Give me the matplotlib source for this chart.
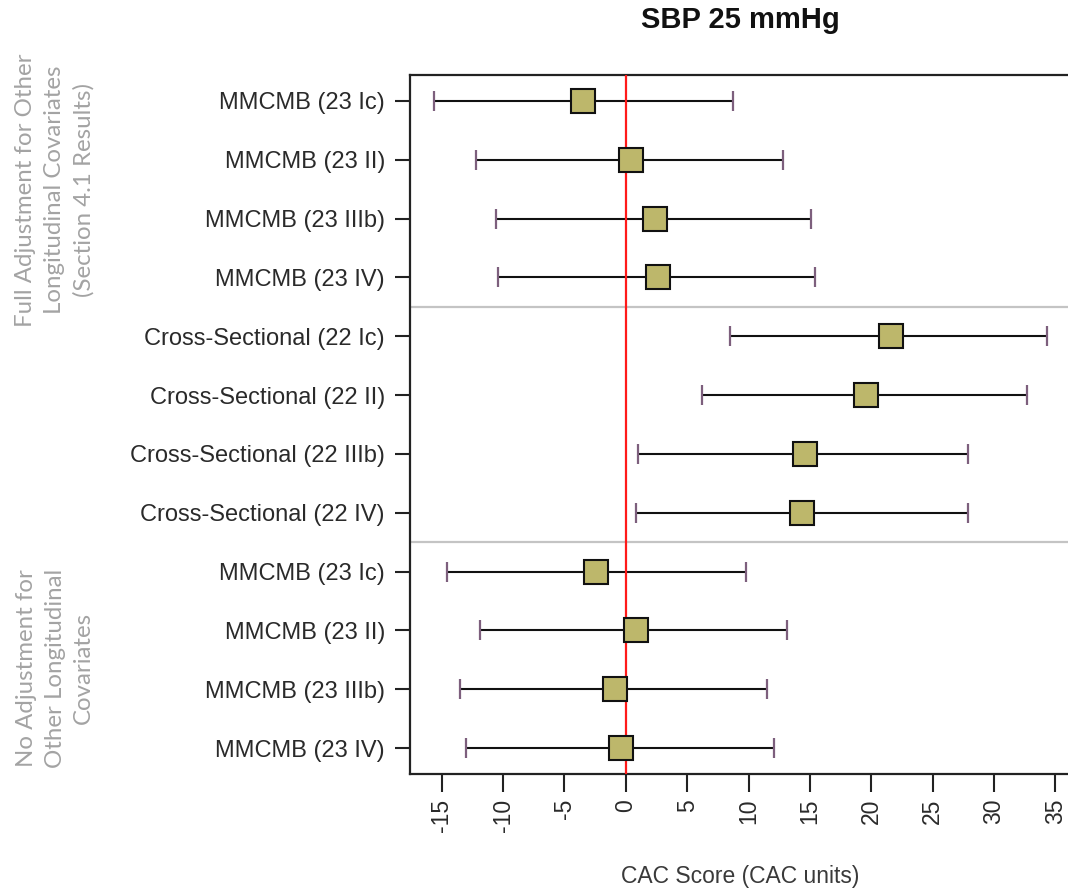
import matplotlib.pyplot as plt
import numpy as np

# Estimates and 95% intervals, top row first
labels = [
    'MMCMB (23 Ic)', 'MMCMB (23 II)', 'MMCMB (23 IIIb)', 'MMCMB (23 IV)',
    'Cross-Sectional (22 Ic)', 'Cross-Sectional (22 II)',
    'Cross-Sectional (22 IIIb)', 'Cross-Sectional (22 IV)',
    'MMCMB (23 Ic)', 'MMCMB (23 II)', 'MMCMB (23 IIIb)', 'MMCMB (23 IV)',
]
est = [-3.5, 0.4, 2.4, 2.6, 21.6, 19.6, 14.6, 14.4, -2.4, 0.8, -0.9, -0.4]
lower = [-15.6, -12.2, -10.6, -10.4, 8.5, 6.2, 1.0, 0.8, -14.6, -11.9, -13.5, -13.0]
upper = [8.7, 12.8, 15.1, 15.4, 34.3, 32.7, 27.9, 27.9, 9.8, 13.1, 11.5, 12.1]

group_top = 'Full Adjustment for Other\nLongitudinal Covariates\n(Section 4.1 Results)'
group_bottom = 'No Adjustment for\nOther Longitudinal\nCovariates'
xticks = list(range(-15, 40, 5))

plt.rcParams['font.family'] = 'Liberation Sans'

ypos = np.arange(1, len(labels) + 1)

# R-style 4% padding on both axes
lo, hi = min(lower), max(upper)
pad = 0.04 * (hi - lo)
xmin, xmax = lo - pad, hi + pad
ypad = 0.04 * (len(labels) - 1)

fig = plt.figure(figsize=(10.68, 8.92), dpi=100)
left_px = 409.9
width_px = (xmax - xmin) * 12.27
ax = fig.add_axes([left_px / 1068, 1 - 774 / 892, width_px / 1068, (774 - 75) / 892])

# section dividers
for yy in [4.5, 8.5]:
    ax.axhline(yy, color='#c4c4c4', linewidth=1.6, zorder=1)

ax.hlines(ypos, lower, upper, color='#111111', linewidth=1.5, zorder=2)
ax.plot(lower, ypos, '|', color='#7d5f7d', markersize=15, markeredgewidth=1.6, zorder=2)
ax.plot(upper, ypos, '|', color='#7d5f7d', markersize=15, markeredgewidth=1.6, zorder=2)
ax.axvline(0, color='#ff1a1a', linewidth=1.6, zorder=3)
ax.plot(est, ypos, 's', color='#bdb76b', markeredgecolor='#111111',
        markeredgewidth=1.5, markersize=17, zorder=4)

ax.set_xlim(xmin, xmax)
ax.set_ylim(len(labels) + ypad, 1 - ypad)

ax.set_yticks(ypos)
ax.set_yticklabels(labels, fontsize=17, color='#2a2a2a')
ax.set_xticks(xticks)
ax.set_xticklabels([str(t) for t in xticks], rotation=90, fontsize=16.5,
                   color='#2a2a2a', va='top')

ax.tick_params(axis='y', length=11, width=1.5, pad=7, color='#222222')
ax.tick_params(axis='x', length=13, width=1.5, pad=5, color='#222222')

ax.spines['right'].set_visible(False)
for side in ['left', 'top', 'bottom']:
    ax.spines[side].set_linewidth(1.6)
    ax.spines[side].set_color('#222222')

fig.text(740 / 1068, 1 - 20 / 892, 'SBP 25 mmHg', ha='center', va='center',
         fontsize=21, fontweight='bold', color='#111111')
fig.text(740 / 1068, 1 - 877 / 892, 'CAC Score (CAC units)', ha='center',
         va='center', fontsize=16.5, color='#3a3a3a')

fig.text(55 / 1068, 1 - 190 / 892, group_top, rotation=90, ha='center',
         va='center', multialignment='center', fontsize=17.3, color='#a3a3a3',
         family='Lato', linespacing=1.45)
fig.text(55 / 1068, 1 - 668 / 892, group_bottom, rotation=90, ha='center',
         va='center', multialignment='center', fontsize=17.3, color='#a3a3a3',
         family='Lato', linespacing=1.45)

fig.savefig('out.png', dpi=100, facecolor='white')
